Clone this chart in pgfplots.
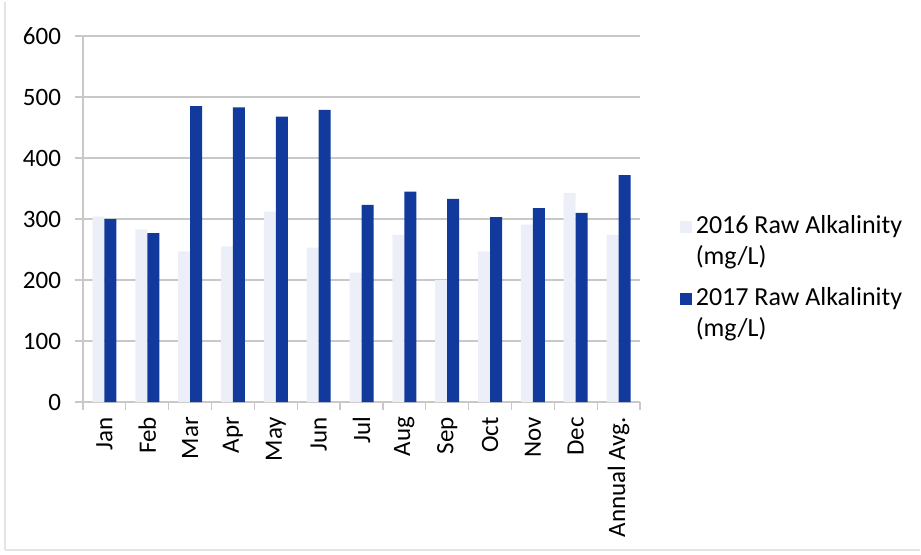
\documentclass[border=0pt]{standalone}
\usepackage{pgfplots}
\pgfplotsset{compat=1.18}
\usepackage{fontspec}
\setmainfont{Carlito}
\definecolor{bar17}{RGB}{18,58,156}
\definecolor{bar16}{RGB}{236,239,247}
\definecolor{gridc}{RGB}{200,200,200}
\definecolor{framec}{RGB}{228,228,228}

\pgfplotstableread{
idx y2016 y2017
0  304 300
1  283 277
2  247 485
3  255 483
4  312 468
5  253 479
6  212 323
7  274 345
8  200 333
9  247 303
10 291 318
11 343 310
12 274 372
}\alkdata

\begin{document}
\begin{tikzpicture}
\path[use as bounding box] (0,0) rectangle (460.5pt,277pt);
% chart area frame
\draw[framec, line width=0.6pt] (2.5pt,2pt) -- (2.5pt,276pt);
\draw[framec, line width=0.6pt] (2.5pt,2pt) -- (460pt,2pt);
\begin{axis}[
  at={(41.5pt,76pt)}, anchor=south west,
  width=278.5pt, height=183pt, scale only axis,
  ybar, bar width=6pt,
  xmin=-0.5, xmax=12.5, ymin=0, ymax=600,
  ytick={0,100,...,600},
  xtick={0,...,12},
  xticklabels={Jan,Feb,Mar,Apr,May,Jun,Jul,Aug,Sep,Oct,Nov,Dec,Annual Avg.},
  x tick label style={rotate=90, anchor=east},
  y tick label style={xshift=-3.5pt},
  major x tick style={draw=none},
  minor xtick={-0.5,0.5,...,12.5},
  minor x tick style={gridc, line width=0.6pt},
  xtick align=outside, ytick align=outside,
  major tick length=4pt, minor tick length=4pt,
  y tick style={gridc, line width=0.6pt},
  ymajorgrids, grid style={gridc, line width=0.6pt},
  axis x line*=bottom, axis y line*=left,
  axis line style={gridc, line width=0.6pt},
  every axis plot/.append style={draw=none},
  tick label style={font=\fontsize{12.5}{15}\selectfont},
  /pgf/number format/assume math mode=true,
  legend style={draw=none, fill=none, at={(1.06,0.34)}, anchor=west,
    font=\fontsize{13}{15.5}\selectfont,
    cells={align=left}, row sep=6pt},
  legend cell align=left,
  legend image code/.code={\fill[#1] (0pt,4.5pt) rectangle (6pt,10.5pt);},
]
\addplot[fill=bar16, bar shift=-3pt] table[x=idx, y=y2016] {\alkdata};
\addlegendentry{2016 Raw Alkalinity\\(mg/L)}
\addplot[fill=bar17, bar shift=3pt] table[x=idx, y=y2017] {\alkdata};
\addlegendentry{2017 Raw Alkalinity\\(mg/L)}
\end{axis}
\end{tikzpicture}
\end{document}
